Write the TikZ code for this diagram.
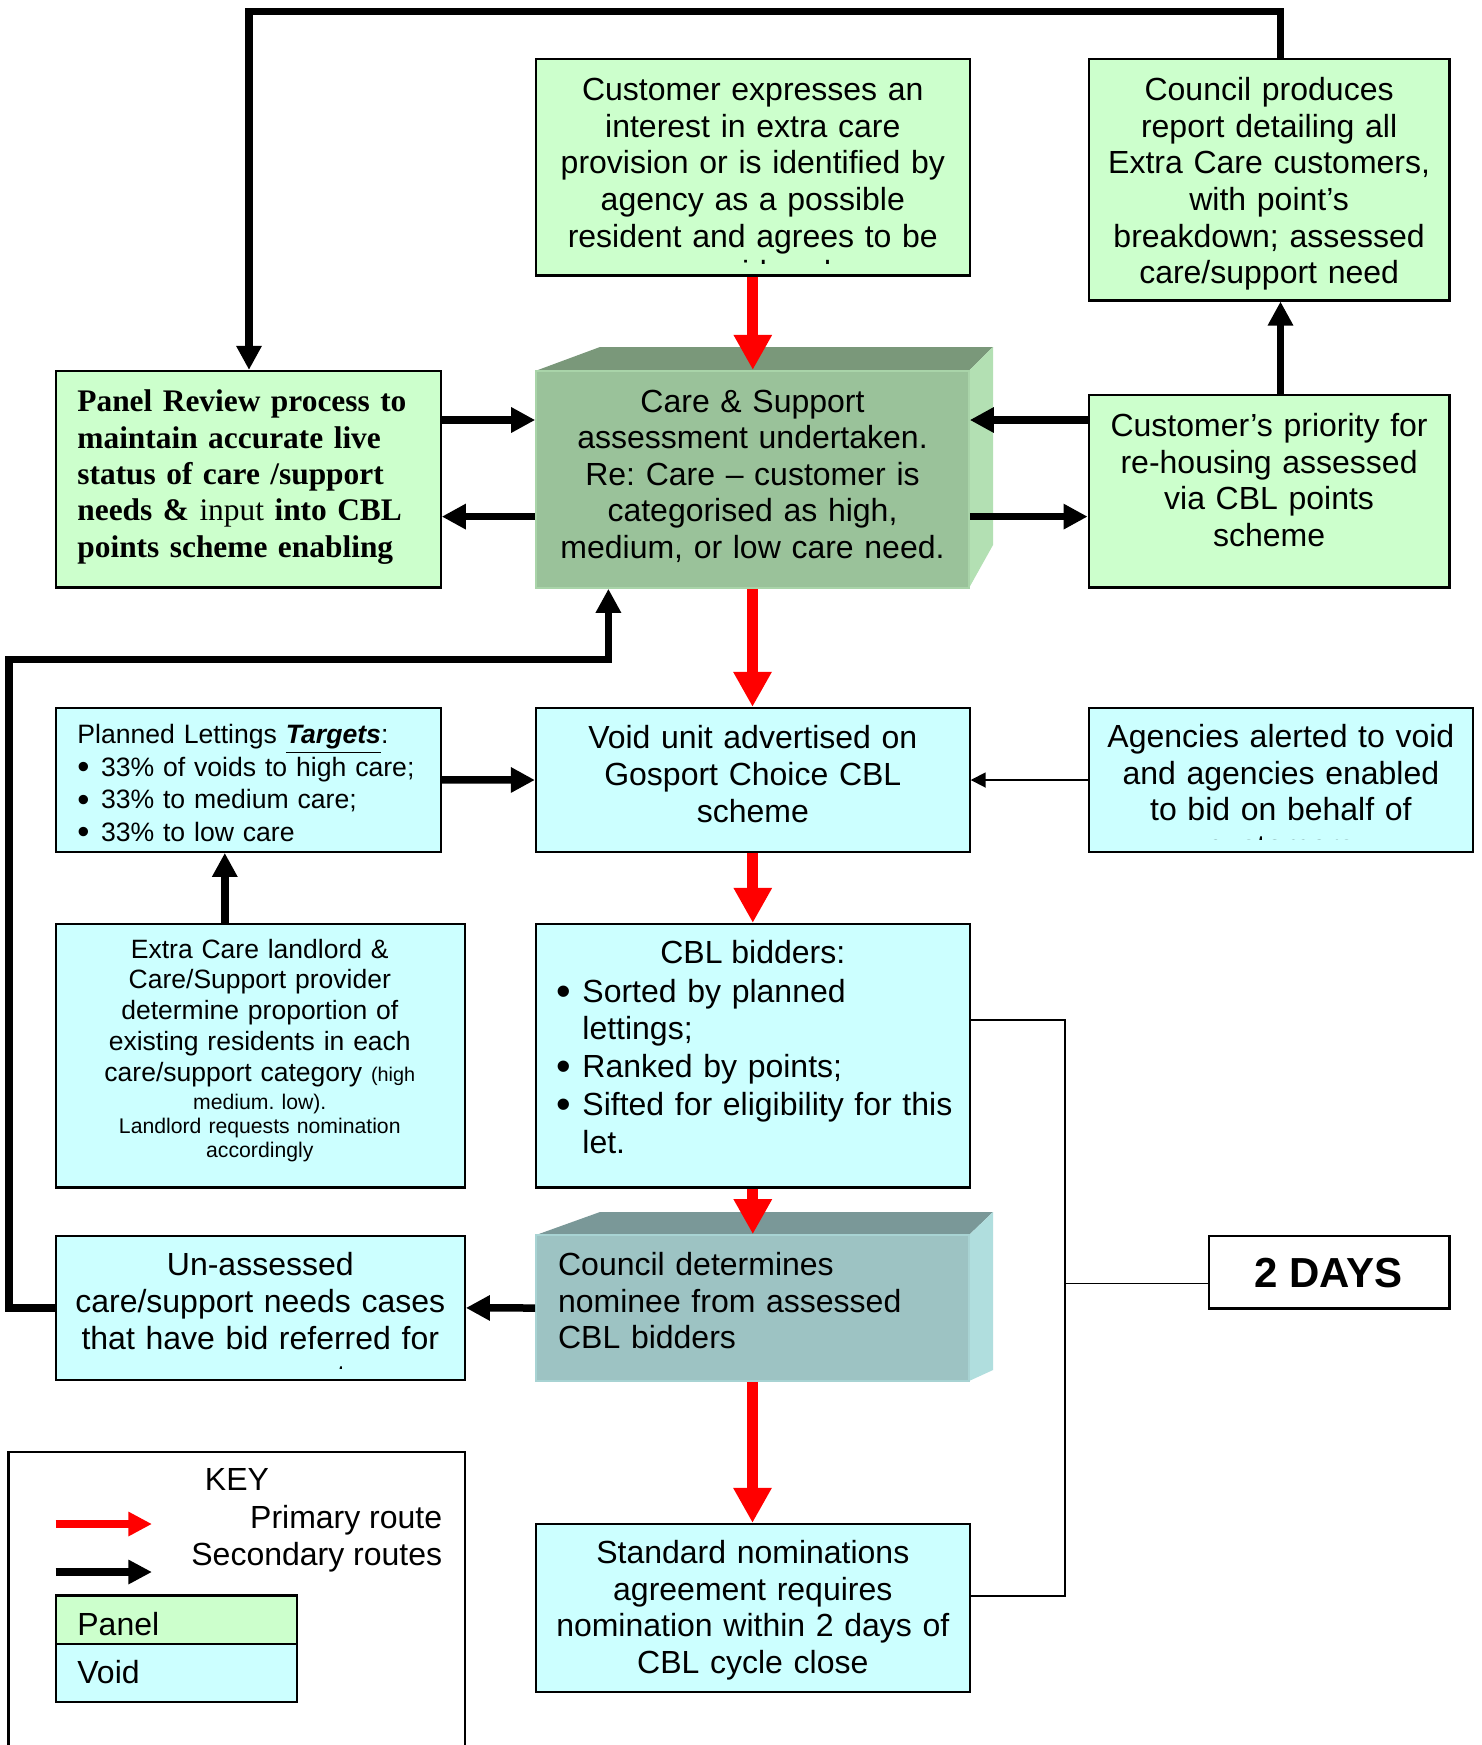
\documentclass[tikz,border=0pt]{standalone}
\usepackage{fontspec}
\setmainfont{Liberation Sans}
\newfontfamily\serifb{Liberation Serif}
\usetikzlibrary{arrows.meta,fit}
\frenchspacing
\definecolor{panelg}{HTML}{CCFFCC}
\definecolor{voidc}{HTML}{CCFFFF}
\definecolor{careF}{HTML}{9AC29A}
\definecolor{careT}{HTML}{7A987A}
\definecolor{careS}{HTML}{B3E0B3}
\definecolor{detF}{HTML}{9DC3C3}
\definecolor{detT}{HTML}{7A9898}
\definecolor{detS}{HTML}{B0DEDE}
\definecolor{prired}{HTML}{FF0000}
\newcommand\mainf{\fontsize{16}{18.3}\selectfont}
\newcommand\planf{\fontsize{13.3}{16.2}\selectfont}
\newcommand\extraf{\fontsize{13.25}{15.35}\selectfont}
\newcommand\smallf{\fontsize{10.6}{12}\selectfont}
\newcommand\cblf{\fontsize{16}{18.9}\selectfont}
\newcommand\unasf{\fontsize{16}{18.7}\selectfont}
\newcommand\daysf{\fontsize{21}{24}\selectfont\bfseries}
\newcommand\bigbul{\raisebox{-0.1em}{\scalebox{1.3}{\textbullet}}}
\newcommand\bul{\makebox[13pt][l]{\bigbul}}
\newcommand\pbul{\makebox[11.8pt][l]{\bigbul}}
\begin{document}
\begin{tikzpicture}[x=0.5pt,y=-0.5pt,
  bx/.style={draw=black,line width=1.1pt,inner sep=0pt},
  pbox/.style={bx,fill=panelg},
  vbox/.style={bx,fill=voidc},
  tn/.style={inner sep=0pt,anchor=north,align=center,font=\mainf},
  tl/.style={inner sep=0pt,anchor=north west,align=left,font=\mainf},
  sec/.style={line width=3.75pt,-{Triangle[length=12pt,width=12pt]}},
  pri/.style={line width=5.6pt,draw=prired,-{Triangle[length=17.5pt,width=18pt]}},
  thinarr/.style={line width=0.9pt,-{Triangle[length=7.5pt,width=7.5pt]}},
  brk/.style={line width=0.9pt},
  keypri/.style={line width=4.35pt,draw=prired,-{Triangle[length=11.8pt,width=11.5pt]}},
  keysec/.style={line width=3.8pt,-{Triangle[length=11.8pt,width=11.5pt]}}]
\useasboundingbox (0,0) rectangle (1482,1745);
\fill[white] (0,0) rectangle (1482,1745);

% ---------- boxes ----------
\node[pbox,fit={(536,59)(969.6,275.5)}] (cust) {};
\node[pbox,fit={(1088.7,59.3)(1449.5,300.4)}] (council) {};
\node[pbox,fit={(55.7,371)(440.7,587.5)}] (panel) {};
\node[pbox,fit={(1088.7,395.3)(1449.5,587.5)}] (prio) {};
\fill[careT] (536,370.7) -- (600,347) -- (993,347) -- (969,370.7) -- cycle;
\fill[careS] (969,370.7) -- (993,347) -- (993,545) -- (969,588) -- cycle;
\node[fill=careF,draw=careS!60!careF,line width=0.8pt,inner sep=0pt,fit={(536,370.7)(969,588)}] (care) {};
\node[vbox,fit={(55.7,708)(440.7,851.8)}] (plan) {};
\node[vbox,fit={(536,708)(969.6,852)}] (void) {};
\node[vbox,fit={(1088.7,708)(1473,852)}] (agen) {};
\node[vbox,fit={(55.7,923.8)(464.8,1187.5)}] (extra) {};
\node[vbox,fit={(536,924)(969.6,1187.5)}] (cbl) {};
\fill[detT] (536,1235) -- (600,1212) -- (993,1212) -- (969,1235) -- cycle;
\fill[detS] (969,1235) -- (993,1212) -- (993,1370) -- (969,1381) -- cycle;
\node[fill=detF,draw=detS!60!detF,line width=0.8pt,inner sep=0pt,fit={(536,1235)(969,1381)}] (det) {};
\node[vbox,fit={(55.7,1235.8)(464.8,1380)}] (unas) {};
\node[vbox,fit={(536,1524)(969.6,1691.8)}] (std) {};
\node[bx,fill=white,fit={(1208.6,1235.8)(1449.5,1308.4)}] (days) {};
\node[bx,fit={(8.5,1452)(464.8,1800)}] (key) {};
\node[pbox,fit={(55.7,1595.5)(296.6,1644.2)}] (kpanel) {};
\node[vbox,fit={(55.7,1644.2)(296.6,1701.6)}] (kvoid) {};

% ---------- texts ----------
\begin{scope}
\clip (536,59) rectangle (969.6,263.5);
\node[tn,text width=210pt] (custT) at (752.8,74.7) {\strut Customer expresses an\\interest in extra care\\provision or is identified by\\agency as a possible\\resident and agrees to be\\considered};
\end{scope}
\node[tn,text width=175pt] (councilT) at (1269.1,74.7) {\strut Council produces\\report detailing all\\Extra Care customers,\\with point’s\\breakdown; assessed\\care/support need};
\node[tl,text width=182pt,font=\serifb\bfseries\fontsize{15.7}{18.2}\selectfont] (panelT) at (77,385.9) {\strut Panel Review process to\\maintain accurate live\\status of care /support\\needs \& {\mdseries input} into CBL\\points scheme enabling};
\node[tn,text width=210pt] (careT) at (752.5,386.1) {\strut Care \& Support\\assessment undertaken.\\Re: Care – customer is\\categorised as high,\\medium, or low care need.};
\node[tn,text width=175pt] (prioT) at (1269.1,410.7) {\strut Customer’s priority for\\re-housing assessed\\via CBL points\\scheme};
\node[tl,text width=180pt,font=\planf] (planT) at (77,720.8) {\strut Planned Lettings \textbf{\textit{\underline{Targets}}}:\\\pbul 33\% of voids to high care;\\\pbul 33\% to medium care;\\\pbul 33\% to low care};
\node[tn,text width=210pt] (voidT) at (752.8,722.9) {\strut Void unit advertised on\\Gosport Choice CBL\\scheme};
\begin{scope}
\clip (1088.7,708) rectangle (1473,839);
\node[tn,text width=185pt] (agenT) at (1280.9,721.7) {\strut Agencies alerted to void\\and agencies enabled\\to bid on behalf of\\customers};
\end{scope}
\node[tn,text width=200pt,font=\extraf] (extraT) at (259.8,936.3) {\strut Extra Care landlord \&\\Care/Support provider\\determine proportion of\\existing residents in each\\care/support category {\fontsize{9.9}{15.35}\selectfont (high}};
\node[tn,text width=200pt,font=\smallf] (extraS) at (259.8,1092.2) {\strut medium. low).\\Landlord requests nomination\\accordingly};
\node[inner sep=0pt,anchor=base,font=\mainf] (cblH) at (752.8,963.6) {CBL bidders:};
\node[tl,text width=205pt,font=\cblf] (cblT) at (556,975.3) {\strut\bul Sorted by planned\\\hspace*{13pt}lettings;\\\bul Ranked by points;\\\bul Sifted for eligibility for this\\\hspace*{13pt}let.};
\node[tl,text width=200pt] (detT) at (557.7,1249.4) {\strut Council determines\\nominee from assessed\\CBL bidders};
\begin{scope}
\clip (55.7,1235.8) rectangle (464.8,1368.5);
\node[tn,text width=200pt,font=\unasf] (unasT) at (260.3,1248.5) {\strut Un-assessed\\care/support needs cases\\that have bid referred for\\assessment};
\end{scope}
\node[tn,text width=210pt] (stdT) at (752.8,1537.6) {\strut Standard nominations\\agreement requires\\nomination within 2 days of\\CBL cycle close};
\node[inner sep=0pt,anchor=base,font=\daysf] (daysT) at (1328.6,1287) {2 DAYS};
\node[inner sep=0pt,anchor=base,font=\mainf] (keyT) at (237,1490) {KEY};
\node[inner sep=0pt,anchor=base east,font=\mainf] (priT) at (442.6,1528.5) {Primary route};
\node[inner sep=0pt,anchor=base east,font=\mainf] (secT) at (442.6,1565.6) {Secondary routes};
\node[inner sep=0pt,anchor=base west,font=\mainf] (kpanelT) at (77,1635) {Panel};
\node[inner sep=0pt,anchor=base west,font=\mainf] (kvoidT) at (77,1683) {Void};

% ---------- connectors ----------
\coordinate (yA) at (0,420);
\coordinate (yB) at (0,516.6);
\coordinate (xT) at (1280.5,11.5);
\coordinate (xL) at (249,11.5);
\coordinate (xE) at (224.8,0);
\coordinate (rA) at (9,659.3);
\coordinate (rB) at (608.4,659.3);
\coordinate (bT) at (1065,1019.8);
\coordinate (bB) at (1065,1595.6);
\coordinate (bM) at (1065,1283.4);

\draw[sec] (xT |- council.north) -- (xT) -- (xL) -- (xL |- panel.north);
\draw[sec] (panel.east |- yA) -- (care.west |- yA);
\draw[sec] (care.west |- yB) -- (panel.east |- yB);
\draw[sec] (prio.west |- yA) -- (care.east |- yA);
\draw[sec] (care.east |- yB) -- (prio.west |- yB);
\draw[sec] (xT |- prio.north) -- (xT |- council.south);
\draw[sec] (plan.east) -- (void.west);
\draw[thinarr] (agen.west) -- (void.east);
\draw[sec] (xE |- extra.north) -- (xE |- plan.south);
\draw[sec] (det.west) -- (unas.east);
\draw[sec] (unas.west) -- (unas.west -| rA) -- (rA) -- (rB) -- (rB |- care.south);

\draw[pri] (cust.south) -- (cust.south |- care.north);
\draw[pri] (care.south) -- (care.south |- void.north);
\draw[pri] (void.south) -- (cbl.north);
\draw[pri] (cbl.south) -- (cbl.south |- det.north);
\draw[pri] (det.south) -- (det.south |- std.north);

\draw[brk] (cbl.east |- bT) -- (bT) -- (bB) -- (std.east |- bB);
\draw[brk] (bM) -- (days.west |- bM);

% ---------- key arrows ----------
\coordinate (kr1) at (55.7,1524);
\coordinate (kr2) at (152,1524);
\coordinate (kb1) at (55.7,1572);
\coordinate (kb2) at (152,1572);
\draw[keypri] (kr1) -- (kr2);
\draw[keysec] (kb1) -- (kb2);
\end{tikzpicture}
\end{document}
